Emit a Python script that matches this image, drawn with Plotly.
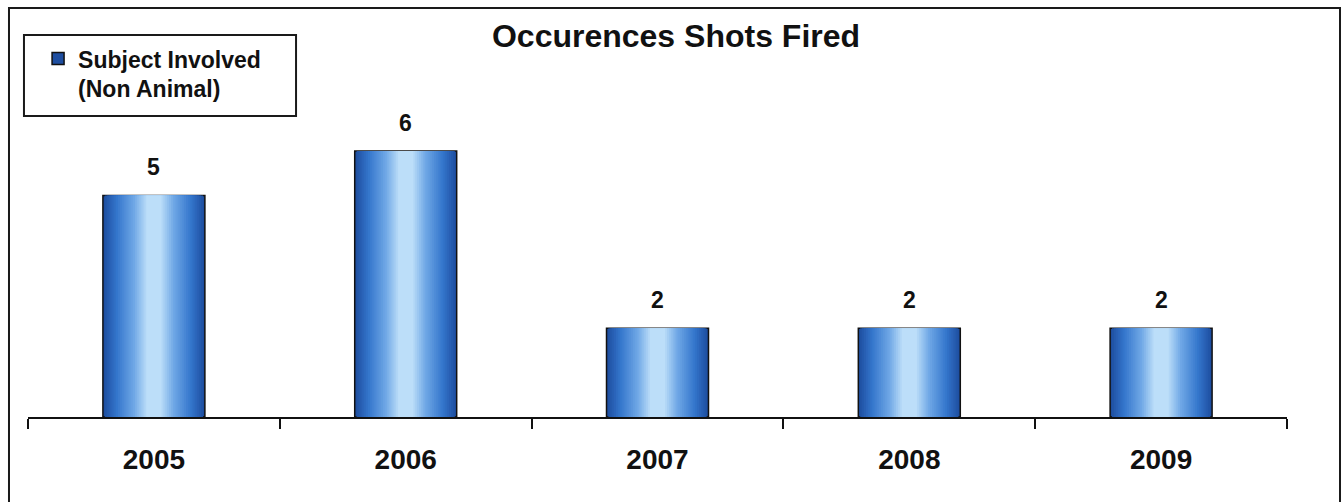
import plotly.graph_objects as go

# Data
years = ["2005", "2006", "2007", "2008", "2009"]
occurrences = [5, 6, 2, 2, 2]
series_name = "Subject Involved<br>(Non Animal)"
chart_title = "Occurences Shots Fired"

FONT = "Liberation Sans, Arial, sans-serif"

# Horizontal gradient on the bars, built from overlaid bars of shrinking width
BAR_WIDTH = 0.405
STEPS = 24
stops = [
    (0.00, (30, 78, 160)),
    (0.30, (52, 118, 204)),
    (0.70, (112, 168, 230)),
    (1.00, (188, 222, 249)),
]


def grad_color(t):
    for (t0, c0), (t1, c1) in zip(stops[:-1], stops[1:]):
        if t <= t1:
            f = (t - t0) / (t1 - t0) if t1 > t0 else 0
            return "rgb(%d,%d,%d)" % tuple(round(a + (b - a) * f) for a, b in zip(c0, c1))
    return "rgb(%d,%d,%d)" % stops[-1][1]


fig = go.Figure()
for i in range(STEPS):
    t = i / (STEPS - 1)
    w = BAR_WIDTH * (1 - t * 0.85)
    fig.add_trace(go.Bar(
        x=years,
        y=occurrences,
        width=w,
        name=series_name,
        showlegend=(i == 0),
        marker=dict(
            color=grad_color(t),
            line=dict(color="#111111", width=1.5 if i == 0 else 0),
        ),
        hoverinfo="skip" if i else None,
    ))

# Value labels above the bars (category index positions on the x axis)
for idx, v in enumerate(occurrences):
    fig.add_annotation(
        x=idx, y=v, xref="x", yref="y", text=str(v), showarrow=False,
        yanchor="bottom", yshift=13,
        font=dict(family=FONT, size=23, color="#111111", weight="bold"),
    )

# Outer frame and legend box
fig.add_shape(type="rect", xref="paper", yref="paper",
              x0=-0.0151, x1=1.0421, y0=-0.30, y1=1.1521,
              line=dict(color="#1a1a1a", width=2), layer="below")
fig.add_shape(type="rect", xref="paper", yref="paper",
              x0=-0.0032, x1=0.2129, y0=0.8479, y1=1.0761,
              line=dict(color="#1a1a1a", width=2), layer="below")

fig.update_layout(
    width=1344, height=502,
    margin=dict(l=28, r=57, t=62, b=85),
    paper_bgcolor="white", plot_bgcolor="white",
    barmode="overlay",
    title=dict(text=chart_title, x=676 / 1344, xanchor="center",
               y=1 - 36 / 502, yanchor="middle",
               font=dict(family=FONT, size=32, color="#111111", weight="bold")),
    legend=dict(x=0.008, y=1.07, xanchor="left", yanchor="top",
                bgcolor="rgba(0,0,0,0)", borderwidth=0, valign="top",
                tracegroupgap=0,
                font=dict(family=FONT, size=23, color="#111111", weight="bold")),
    showlegend=True,
    xaxis=dict(
        type="category", range=[-0.5, 4.5],
        showline=True, linecolor="#111111", linewidth=2,
        ticks="outside", tickson="boundaries", ticklen=10, tickwidth=2, tickcolor="#111111",
        ticklabelstandoff=16,
        tickfont=dict(family=FONT, size=28, color="#111111", weight="bold"),
        showgrid=False, zeroline=False,
    ),
    yaxis=dict(range=[0, 8.01], visible=False, showgrid=False, zeroline=False),
)

fig.write_html("out.html")
